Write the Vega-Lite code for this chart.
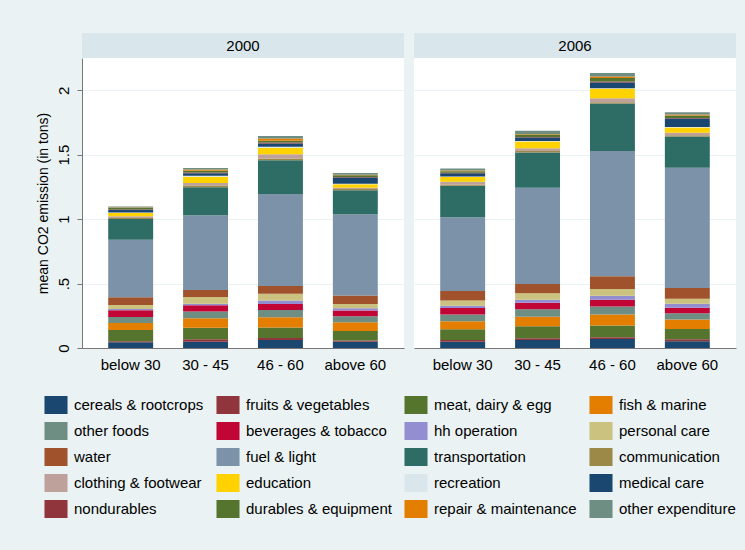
{
  "$schema": "https://vega.github.io/schema/vega-lite/v6.json",
  "background": "#eaf2f3",
  "padding": {"top": 33, "left": 36, "right": 10, "bottom": 32},
  "datasets": {
    "co2": [
      {"y":"2000","a":"below 30","c":"cereals & rootcrops","v":0.044},
      {"y":"2000","a":"below 30","c":"fruits & vegetables","v":0.008},
      {"y":"2000","a":"below 30","c":"meat, dairy & egg","v":0.088},
      {"y":"2000","a":"below 30","c":"fish & marine","v":0.054},
      {"y":"2000","a":"below 30","c":"other foods","v":0.047},
      {"y":"2000","a":"below 30","c":"beverages & tobacco","v":0.052},
      {"y":"2000","a":"below 30","c":"hh operation","v":0.01},
      {"y":"2000","a":"below 30","c":"personal care","v":0.031},
      {"y":"2000","a":"below 30","c":"water","v":0.06},
      {"y":"2000","a":"below 30","c":"fuel & light","v":0.446},
      {"y":"2000","a":"below 30","c":"transportation","v":0.16},
      {"y":"2000","a":"below 30","c":"communication","v":0.008},
      {"y":"2000","a":"below 30","c":"clothing & footwear","v":0.015},
      {"y":"2000","a":"below 30","c":"education","v":0.025},
      {"y":"2000","a":"below 30","c":"recreation","v":0.004},
      {"y":"2000","a":"below 30","c":"medical care","v":0.02},
      {"y":"2000","a":"below 30","c":"nondurables","v":0.004},
      {"y":"2000","a":"below 30","c":"durables & equipment","v":0.01},
      {"y":"2000","a":"below 30","c":"repair & maintenance","v":0.004},
      {"y":"2000","a":"below 30","c":"other expenditure","v":0.008},

      {"y":"2000","a":"30 - 45","c":"cereals & rootcrops","v":0.049},
      {"y":"2000","a":"30 - 45","c":"fruits & vegetables","v":0.018},
      {"y":"2000","a":"30 - 45","c":"meat, dairy & egg","v":0.09},
      {"y":"2000","a":"30 - 45","c":"fish & marine","v":0.073},
      {"y":"2000","a":"30 - 45","c":"other foods","v":0.054},
      {"y":"2000","a":"30 - 45","c":"beverages & tobacco","v":0.047},
      {"y":"2000","a":"30 - 45","c":"hh operation","v":0.013},
      {"y":"2000","a":"30 - 45","c":"personal care","v":0.052},
      {"y":"2000","a":"30 - 45","c":"water","v":0.054},
      {"y":"2000","a":"30 - 45","c":"fuel & light","v":0.58},
      {"y":"2000","a":"30 - 45","c":"transportation","v":0.218},
      {"y":"2000","a":"30 - 45","c":"communication","v":0.013},
      {"y":"2000","a":"30 - 45","c":"clothing & footwear","v":0.02},
      {"y":"2000","a":"30 - 45","c":"education","v":0.047},
      {"y":"2000","a":"30 - 45","c":"recreation","v":0.008},
      {"y":"2000","a":"30 - 45","c":"medical care","v":0.02},
      {"y":"2000","a":"30 - 45","c":"nondurables","v":0.005},
      {"y":"2000","a":"30 - 45","c":"durables & equipment","v":0.015},
      {"y":"2000","a":"30 - 45","c":"repair & maintenance","v":0.008},
      {"y":"2000","a":"30 - 45","c":"other expenditure","v":0.013},

      {"y":"2000","a":"46 - 60","c":"cereals & rootcrops","v":0.062},
      {"y":"2000","a":"46 - 60","c":"fruits & vegetables","v":0.015},
      {"y":"2000","a":"46 - 60","c":"meat, dairy & egg","v":0.083},
      {"y":"2000","a":"46 - 60","c":"fish & marine","v":0.078},
      {"y":"2000","a":"46 - 60","c":"other foods","v":0.057},
      {"y":"2000","a":"46 - 60","c":"beverages & tobacco","v":0.047},
      {"y":"2000","a":"46 - 60","c":"hh operation","v":0.026},
      {"y":"2000","a":"46 - 60","c":"personal care","v":0.052},
      {"y":"2000","a":"46 - 60","c":"water","v":0.062},
      {"y":"2000","a":"46 - 60","c":"fuel & light","v":0.713},
      {"y":"2000","a":"46 - 60","c":"transportation","v":0.262},
      {"y":"2000","a":"46 - 60","c":"communication","v":0.013},
      {"y":"2000","a":"46 - 60","c":"clothing & footwear","v":0.034},
      {"y":"2000","a":"46 - 60","c":"education","v":0.049},
      {"y":"2000","a":"46 - 60","c":"recreation","v":0.008},
      {"y":"2000","a":"46 - 60","c":"medical care","v":0.026},
      {"y":"2000","a":"46 - 60","c":"nondurables","v":0.008},
      {"y":"2000","a":"46 - 60","c":"durables & equipment","v":0.013},
      {"y":"2000","a":"46 - 60","c":"repair & maintenance","v":0.018},
      {"y":"2000","a":"46 - 60","c":"other expenditure","v":0.018},

      {"y":"2000","a":"above 60","c":"cereals & rootcrops","v":0.049},
      {"y":"2000","a":"above 60","c":"fruits & vegetables","v":0.01},
      {"y":"2000","a":"above 60","c":"meat, dairy & egg","v":0.073},
      {"y":"2000","a":"above 60","c":"fish & marine","v":0.067},
      {"y":"2000","a":"above 60","c":"other foods","v":0.047},
      {"y":"2000","a":"above 60","c":"beverages & tobacco","v":0.044},
      {"y":"2000","a":"above 60","c":"hh operation","v":0.018},
      {"y":"2000","a":"above 60","c":"personal care","v":0.034},
      {"y":"2000","a":"above 60","c":"water","v":0.065},
      {"y":"2000","a":"above 60","c":"fuel & light","v":0.63},
      {"y":"2000","a":"above 60","c":"transportation","v":0.187},
      {"y":"2000","a":"above 60","c":"communication","v":0.01},
      {"y":"2000","a":"above 60","c":"clothing & footwear","v":0.01},
      {"y":"2000","a":"above 60","c":"education","v":0.026},
      {"y":"2000","a":"above 60","c":"recreation","v":0.005},
      {"y":"2000","a":"above 60","c":"medical care","v":0.047},
      {"y":"2000","a":"above 60","c":"nondurables","v":0.005},
      {"y":"2000","a":"above 60","c":"durables & equipment","v":0.013},
      {"y":"2000","a":"above 60","c":"repair & maintenance","v":0.005},
      {"y":"2000","a":"above 60","c":"other expenditure","v":0.013},

      {"y":"2006","a":"below 30","c":"cereals & rootcrops","v":0.049},
      {"y":"2006","a":"below 30","c":"fruits & vegetables","v":0.013},
      {"y":"2006","a":"below 30","c":"meat, dairy & egg","v":0.083},
      {"y":"2006","a":"below 30","c":"fish & marine","v":0.062},
      {"y":"2006","a":"below 30","c":"other foods","v":0.052},
      {"y":"2006","a":"below 30","c":"beverages & tobacco","v":0.052},
      {"y":"2006","a":"below 30","c":"hh operation","v":0.016},
      {"y":"2006","a":"below 30","c":"personal care","v":0.042},
      {"y":"2006","a":"below 30","c":"water","v":0.073},
      {"y":"2006","a":"below 30","c":"fuel & light","v":0.573},
      {"y":"2006","a":"below 30","c":"transportation","v":0.244},
      {"y":"2006","a":"below 30","c":"communication","v":0.01},
      {"y":"2006","a":"below 30","c":"clothing & footwear","v":0.021},
      {"y":"2006","a":"below 30","c":"education","v":0.036},
      {"y":"2006","a":"below 30","c":"recreation","v":0.005},
      {"y":"2006","a":"below 30","c":"medical care","v":0.024},
      {"y":"2006","a":"below 30","c":"nondurables","v":0.005},
      {"y":"2006","a":"below 30","c":"durables & equipment","v":0.012},
      {"y":"2006","a":"below 30","c":"repair & maintenance","v":0.005},
      {"y":"2006","a":"below 30","c":"other expenditure","v":0.015},

      {"y":"2006","a":"30 - 45","c":"cereals & rootcrops","v":0.062},
      {"y":"2006","a":"30 - 45","c":"fruits & vegetables","v":0.013},
      {"y":"2006","a":"30 - 45","c":"meat, dairy & egg","v":0.093},
      {"y":"2006","a":"30 - 45","c":"fish & marine","v":0.075},
      {"y":"2006","a":"30 - 45","c":"other foods","v":0.057},
      {"y":"2006","a":"30 - 45","c":"beverages & tobacco","v":0.052},
      {"y":"2006","a":"30 - 45","c":"hh operation","v":0.023},
      {"y":"2006","a":"30 - 45","c":"personal care","v":0.049},
      {"y":"2006","a":"30 - 45","c":"water","v":0.073},
      {"y":"2006","a":"30 - 45","c":"fuel & light","v":0.747},
      {"y":"2006","a":"30 - 45","c":"transportation","v":0.272},
      {"y":"2006","a":"30 - 45","c":"communication","v":0.013},
      {"y":"2006","a":"30 - 45","c":"clothing & footwear","v":0.021},
      {"y":"2006","a":"30 - 45","c":"education","v":0.052},
      {"y":"2006","a":"30 - 45","c":"recreation","v":0.005},
      {"y":"2006","a":"30 - 45","c":"medical care","v":0.026},
      {"y":"2006","a":"30 - 45","c":"nondurables","v":0.005},
      {"y":"2006","a":"30 - 45","c":"durables & equipment","v":0.018},
      {"y":"2006","a":"30 - 45","c":"repair & maintenance","v":0.005},
      {"y":"2006","a":"30 - 45","c":"other expenditure","v":0.024},

      {"y":"2006","a":"46 - 60","c":"cereals & rootcrops","v":0.07},
      {"y":"2006","a":"46 - 60","c":"fruits & vegetables","v":0.013},
      {"y":"2006","a":"46 - 60","c":"meat, dairy & egg","v":0.091},
      {"y":"2006","a":"46 - 60","c":"fish & marine","v":0.086},
      {"y":"2006","a":"46 - 60","c":"other foods","v":0.062},
      {"y":"2006","a":"46 - 60","c":"beverages & tobacco","v":0.052},
      {"y":"2006","a":"46 - 60","c":"hh operation","v":0.031},
      {"y":"2006","a":"46 - 60","c":"personal care","v":0.052},
      {"y":"2006","a":"46 - 60","c":"water","v":0.099},
      {"y":"2006","a":"46 - 60","c":"fuel & light","v":0.973},
      {"y":"2006","a":"46 - 60","c":"transportation","v":0.368},
      {"y":"2006","a":"46 - 60","c":"communication","v":0.01},
      {"y":"2006","a":"46 - 60","c":"clothing & footwear","v":0.031},
      {"y":"2006","a":"46 - 60","c":"education","v":0.073},
      {"y":"2006","a":"46 - 60","c":"recreation","v":0.005},
      {"y":"2006","a":"46 - 60","c":"medical care","v":0.044},
      {"y":"2006","a":"46 - 60","c":"nondurables","v":0.008},
      {"y":"2006","a":"46 - 60","c":"durables & equipment","v":0.026},
      {"y":"2006","a":"46 - 60","c":"repair & maintenance","v":0.013},
      {"y":"2006","a":"46 - 60","c":"other expenditure","v":0.026},

      {"y":"2006","a":"above 60","c":"cereals & rootcrops","v":0.052},
      {"y":"2006","a":"above 60","c":"fruits & vegetables","v":0.016},
      {"y":"2006","a":"above 60","c":"meat, dairy & egg","v":0.08},
      {"y":"2006","a":"above 60","c":"fish & marine","v":0.073},
      {"y":"2006","a":"above 60","c":"other foods","v":0.049},
      {"y":"2006","a":"above 60","c":"beverages & tobacco","v":0.042},
      {"y":"2006","a":"above 60","c":"hh operation","v":0.031},
      {"y":"2006","a":"above 60","c":"personal care","v":0.039},
      {"y":"2006","a":"above 60","c":"water","v":0.083},
      {"y":"2006","a":"above 60","c":"fuel & light","v":0.934},
      {"y":"2006","a":"above 60","c":"transportation","v":0.241},
      {"y":"2006","a":"above 60","c":"communication","v":0.01},
      {"y":"2006","a":"above 60","c":"clothing & footwear","v":0.021},
      {"y":"2006","a":"above 60","c":"education","v":0.039},
      {"y":"2006","a":"above 60","c":"recreation","v":0.005},
      {"y":"2006","a":"above 60","c":"medical care","v":0.065},
      {"y":"2006","a":"above 60","c":"nondurables","v":0.005},
      {"y":"2006","a":"above 60","c":"durables & equipment","v":0.018},
      {"y":"2006","a":"above 60","c":"repair & maintenance","v":0.008},
      {"y":"2006","a":"above 60","c":"other expenditure","v":0.018}
    ],
    "years": [{"y":"2000"},{"y":"2006"}]
  },
  "hconcat": [
    {
      "spacing": 0,
      "vconcat": [
        {
          "width": 322, "height": 25,
          "data": {"name": "years"},
          "transform": [{"filter": "datum.y == '2000'"}],
          "view": {"fill": "#d9e6eb", "stroke": null},
          "mark": {"type": "text", "fontSize": 15, "font": "Liberation Sans", "color": "#000"},
          "encoding": {"text": {"field": "y", "type": "nominal"}}
        },
        {
          "width": 322, "height": 290,
          "data": {"name": "co2"},
          "transform": [
            {"filter": "datum.y == '2000'"},
            {"calculate": "indexof(['cereals & rootcrops','fruits & vegetables','meat, dairy & egg','fish & marine','other foods','beverages & tobacco','hh operation','personal care','water','fuel & light','transportation','communication','clothing & footwear','education','recreation','medical care','nondurables','durables & equipment','repair & maintenance','other expenditure'], datum.c)", "as": "k"}
          ],
          "mark": {"type": "bar"},
          "encoding": {
            "x": {"field": "a", "type": "nominal", "sort": ["below 30","30 - 45","46 - 60","above 60"],
                  "scale": {"paddingInner": 0.4, "paddingOuter": 0.35},
                  "axis": {"title": null, "labelAngle": 0, "ticks": false, "labelPadding": 9}},
            "y": {"field": "v", "type": "quantitative", "stack": "zero",
                  "scale": {"domain": [0, 2.25], "nice": false},
                  "axis": {"title": "mean CO2 emission (in tons)", "values": [0, 0.5, 1, 1.5, 2],
                           "format": ".1~f", "labelExpr": "datum.value == 0.5 ? '.5' : datum.label",
                           "labelAngle": 270, "labelAlign": "center", "labelBaseline": "bottom", "labelPadding": 6}},
            "color": {"field": "c", "type": "nominal", "title": null,
                      "legend": {"orient": "none", "legendX": -35, "legendY": 363},
                      "scale": {
                        "domain": ["cereals & rootcrops","fruits & vegetables","meat, dairy & egg","fish & marine","other foods","beverages & tobacco","hh operation","personal care","water","fuel & light","transportation","communication","clothing & footwear","education","recreation","medical care","nondurables","durables & equipment","repair & maintenance","other expenditure"],
                        "range": ["#1a476f","#90353b","#55752f","#e37e00","#6e8e84","#c10534","#938dd2","#cac27e","#a0522d","#7b92a8","#2d6d66","#9c8847","#bfa19c","#ffd200","#d9e6eb","#1a476f","#90353b","#55752f","#e37e00","#6e8e84"]
                      }},
            "order": {"field": "k", "type": "quantitative"}
          }
        }
      ]
    },
    {
      "spacing": 0,
      "vconcat": [
        {
          "width": 322, "height": 25,
          "data": {"name": "years"},
          "transform": [{"filter": "datum.y == '2006'"}],
          "view": {"fill": "#d9e6eb", "stroke": null},
          "mark": {"type": "text", "fontSize": 15, "font": "Liberation Sans", "color": "#000"},
          "encoding": {"text": {"field": "y", "type": "nominal"}}
        },
        {
          "width": 322, "height": 290,
          "data": {"name": "co2"},
          "transform": [
            {"filter": "datum.y == '2006'"},
            {"calculate": "indexof(['cereals & rootcrops','fruits & vegetables','meat, dairy & egg','fish & marine','other foods','beverages & tobacco','hh operation','personal care','water','fuel & light','transportation','communication','clothing & footwear','education','recreation','medical care','nondurables','durables & equipment','repair & maintenance','other expenditure'], datum.c)", "as": "k"}
          ],
          "mark": {"type": "bar"},
          "encoding": {
            "x": {"field": "a", "type": "nominal", "sort": ["below 30","30 - 45","46 - 60","above 60"],
                  "scale": {"paddingInner": 0.4, "paddingOuter": 0.35},
                  "axis": {"title": null, "labelAngle": 0, "ticks": false, "labelPadding": 9}},
            "y": {"field": "v", "type": "quantitative", "stack": "zero",
                  "scale": {"domain": [0, 2.25], "nice": false},
                  "axis": {"title": null, "values": [0, 0.5, 1, 1.5, 2], "labels": false, "ticks": false, "domain": false}},
            "color": {"field": "c", "type": "nominal", "title": null,
                      "scale": {
                        "domain": ["cereals & rootcrops","fruits & vegetables","meat, dairy & egg","fish & marine","other foods","beverages & tobacco","hh operation","personal care","water","fuel & light","transportation","communication","clothing & footwear","education","recreation","medical care","nondurables","durables & equipment","repair & maintenance","other expenditure"],
                        "range": ["#1a476f","#90353b","#55752f","#e37e00","#6e8e84","#c10534","#938dd2","#cac27e","#a0522d","#7b92a8","#2d6d66","#9c8847","#bfa19c","#ffd200","#d9e6eb","#1a476f","#90353b","#55752f","#e37e00","#6e8e84"]
                      }},
            "order": {"field": "k", "type": "quantitative"}
          }
        }
      ]
    }
  ],
  "spacing": 10,
  "resolve": {"scale": {"color": "shared"}},
  "config": {
    "font": "Liberation Sans",
    "view": {"fill": "white", "stroke": null},
    "axis": {"labelFont": "Liberation Sans", "labelFontSize": 15, "labelColor": "#000", "titleFont": "Liberation Sans", "titleFontSize": 14, "titleFontWeight": "normal", "titleColor": "#000", "domainColor": "#777", "tickColor": "#777", "gridColor": "#eaf2f3", "gridWidth": 1},
    "axisX": {"grid": false},
    "axisY": {"grid": true, "tickSize": 5, "titlePadding": 6},
    "legend": {
      "columns": 4, "direction": "horizontal",
      "symbolType": "M-1.28,-1L1.28,-1L1.28,1L-1.28,1Z", "symbolSize": 324, "symbolStrokeWidth": 0,
      "labelFont": "Liberation Sans", "labelFontSize": 15, "labelColor": "#000", "labelOffset": 9,
      "rowPadding": 8, "columnPadding": 12, "labelLimit": 300
    }
  }
}
